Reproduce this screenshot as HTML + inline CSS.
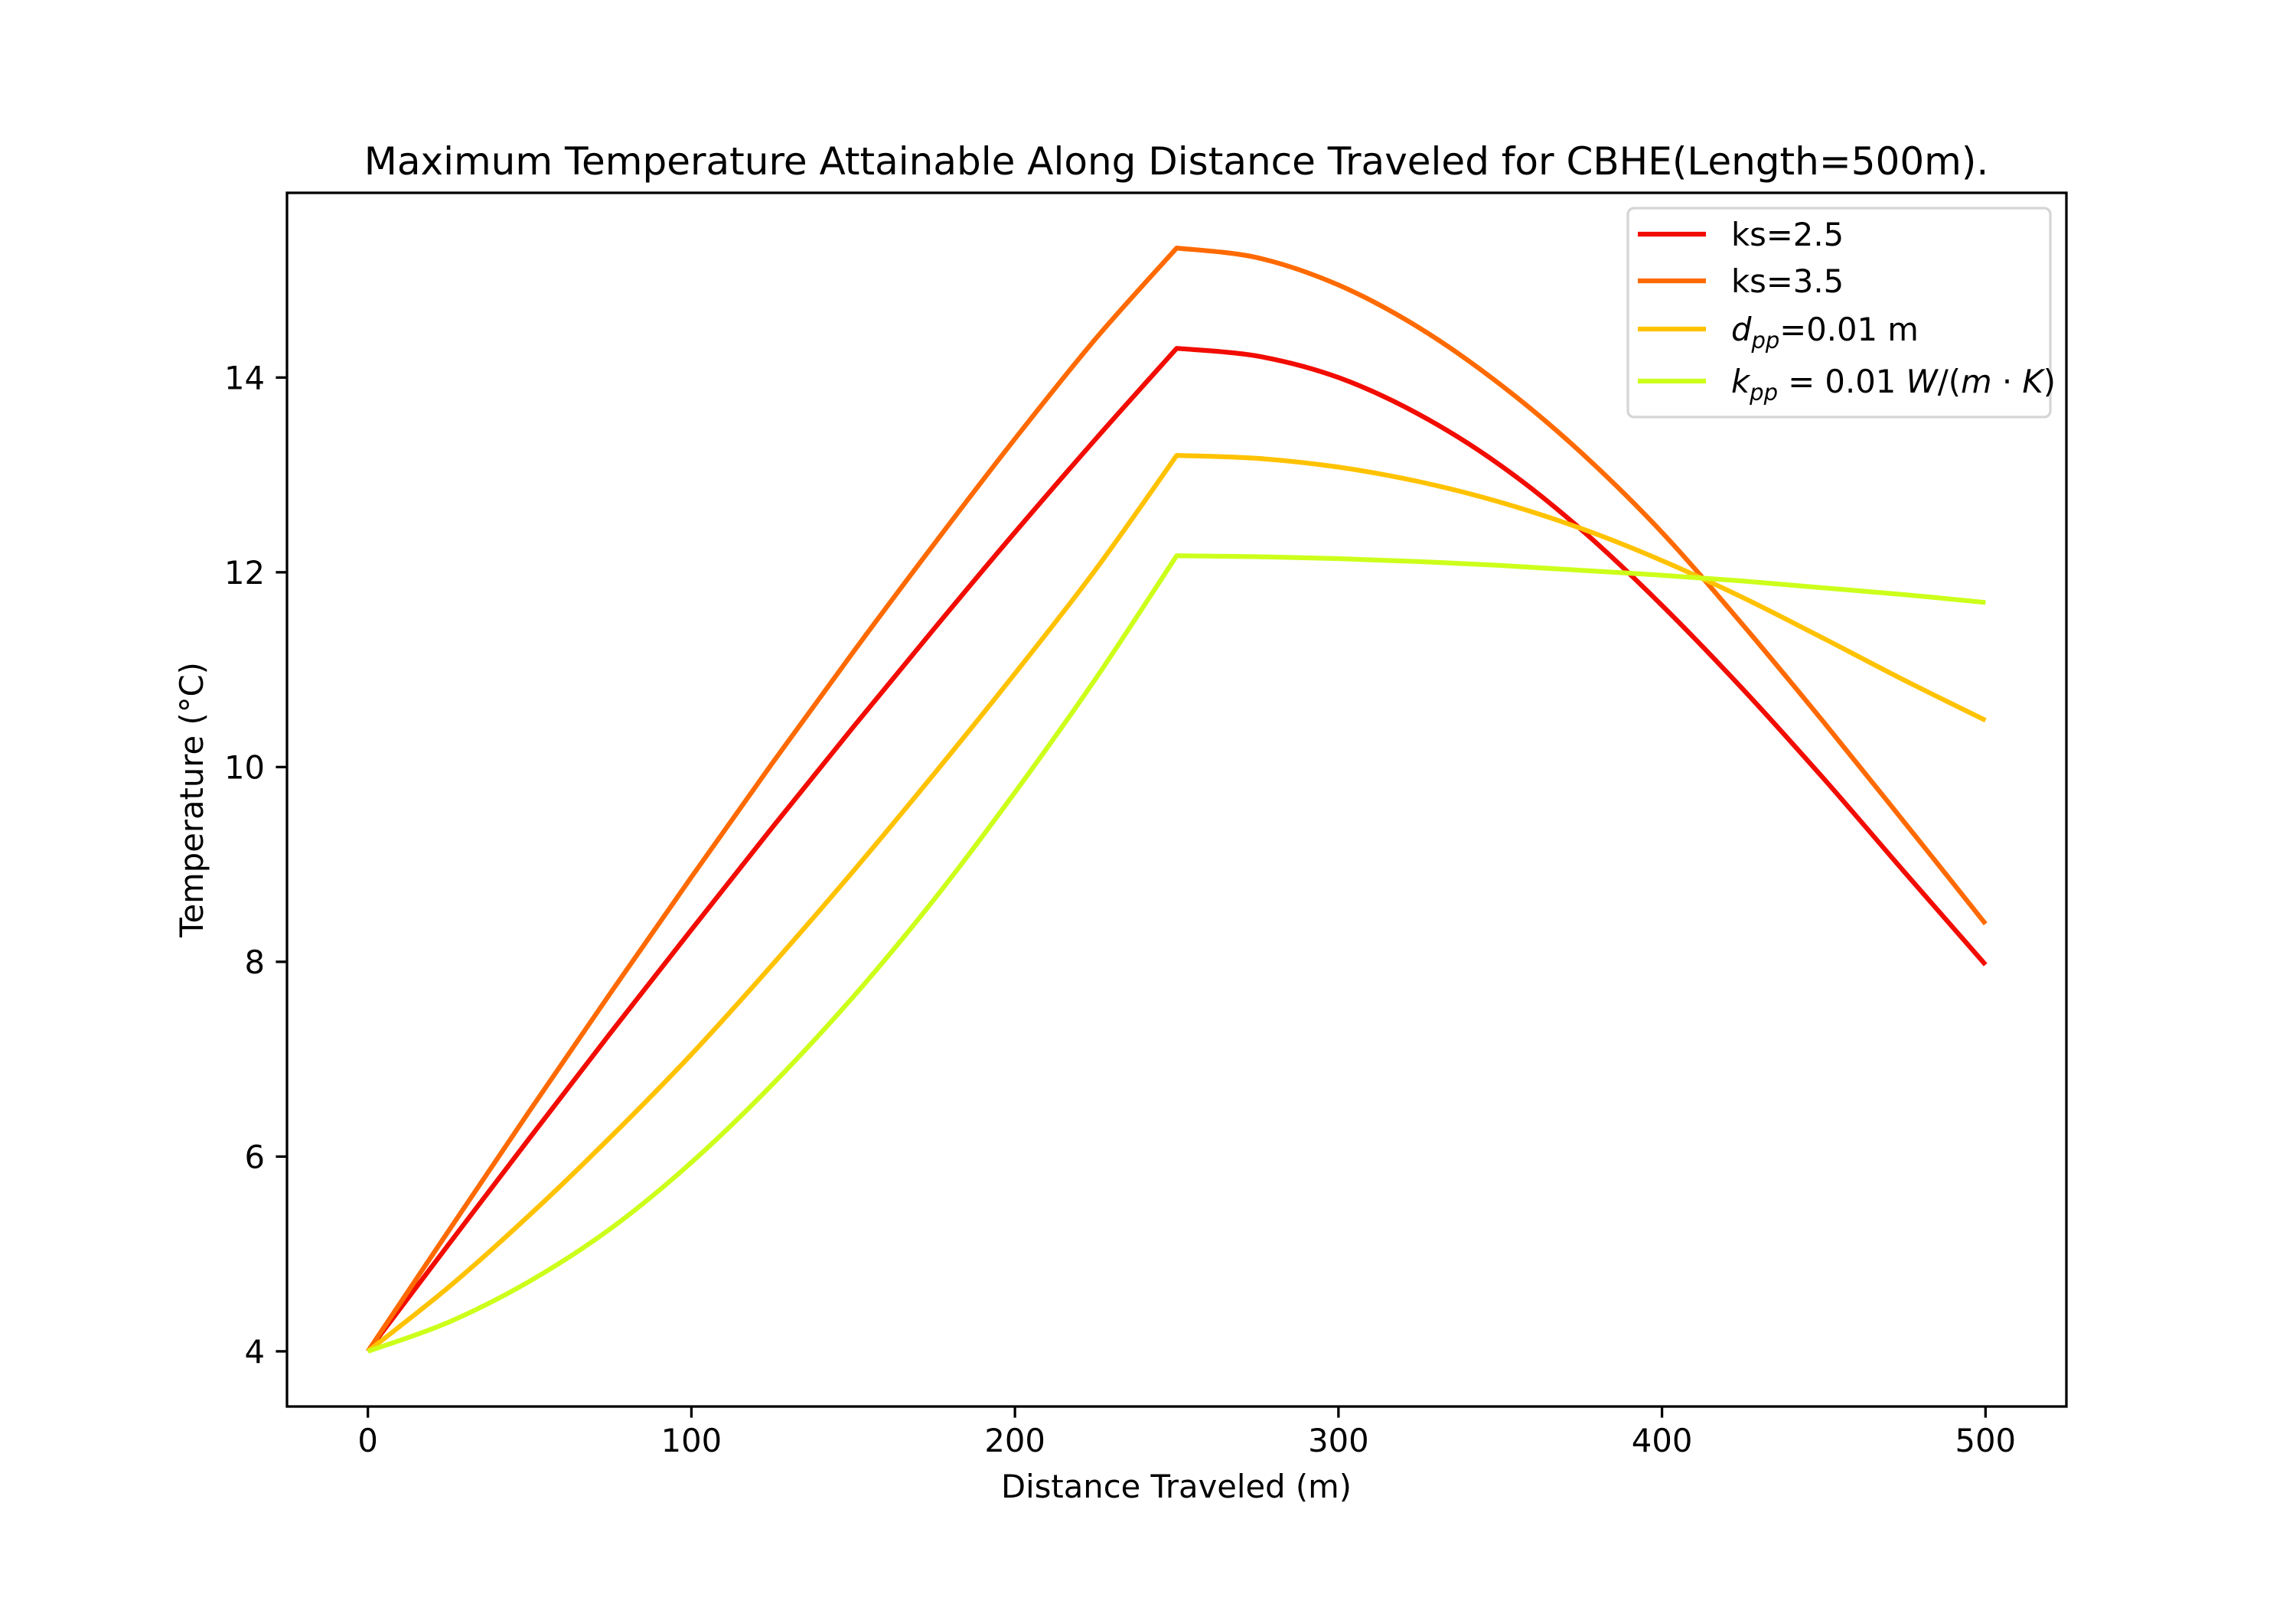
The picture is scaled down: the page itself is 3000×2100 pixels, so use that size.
<!DOCTYPE html>
<html><head><meta charset="utf-8"><style>
html,body{margin:0;padding:0;background:#fff}
svg{display:block;font-family:"DejaVu Sans","Liberation Sans",sans-serif}
</style></head><body>
<svg id="chart" width="3000" height="2100" viewBox="0 0 3000 2100" xmlns="http://www.w3.org/2000/svg">
<rect width="3000" height="2100" fill="#fff"/>
<text x="1537" y="228" font-size="50" text-anchor="middle">Maximum Temperature Attainable Along Distance Traveled for CBHE(Length=500m).</text>
<g id="series"></g>
<rect x="375" y="252" width="2325" height="1586" fill="none" stroke="#000" stroke-width="3.3"/>
<g id="xticks"></g>
<g id="yticks"></g>
<text x="1537" y="1957" font-size="41.7" text-anchor="middle">Distance Traveled (m)</text>
<text transform="translate(265,1045) rotate(-90)" font-size="41.7" text-anchor="middle">Temperature (°C)</text>
<g>
<rect x="2127" y="272" width="552" height="273" rx="8" fill="#fff" fill-opacity="0.8" stroke="#d5d5d5" stroke-width="3.3"/>
<line x1="2140" y1="306" x2="2229" y2="306" stroke="#f20c00" stroke-width="6.25"/>
<text x="2262" y="321" font-size="41.7">ks=2.5</text>
<line x1="2140" y1="367" x2="2229" y2="367" stroke="#ff6a00" stroke-width="6.25"/>
<text x="2262" y="382" font-size="41.7">ks=3.5</text>
<line x1="2140" y1="430" x2="2229" y2="430" stroke="#ffc200" stroke-width="6.25"/>
<text x="2262" y="445" font-size="41.7"><tspan font-style="italic">d</tspan><tspan font-style="italic" font-size="29" dy="10">pp</tspan><tspan dy="-10">=0.01 m</tspan></text>
<line x1="2140" y1="498" x2="2229" y2="498" stroke="#ccff1a" stroke-width="6.25"/>
<text x="2262" y="513" font-size="41.7"><tspan font-style="italic">k</tspan><tspan font-style="italic" font-size="29" dy="10">pp</tspan><tspan dy="-10"> = 0.01 </tspan><tspan font-style="italic">W</tspan><tspan>/(</tspan><tspan font-style="italic">m</tspan><tspan> · </tspan><tspan font-style="italic">K</tspan><tspan>)</tspan></text>
</g>
</svg>
<script>
const xValues = [0,25,50,75,100,125,150,175,200,225,250,275,300,325,350,375,400,425,450,475,500];
const ks25 = [4,5.1,6.19,7.27,8.33,9.38,10.41,11.42,12.41,13.37,14.3,14.22,14.0,13.62,13.1,12.44,11.66,10.8,9.88,8.92,7.97];
const ks35 = [4,5.24,6.47,7.68,8.87,10.04,11.18,12.29,13.37,14.4,15.33,15.23,14.95,14.51,13.93,13.23,12.41,11.46,10.46,9.43,8.39];
const dpp = [4,4.66,5.4,6.2,7.05,7.97,8.93,9.93,10.96,12.03,13.2,13.17,13.08,12.93,12.72,12.45,12.12,11.74,11.32,10.89,10.48];
const kpp = [4,4.3,4.72,5.26,5.94,6.74,7.64,8.64,9.74,10.91,12.17,12.16,12.14,12.11,12.07,12.02,11.97,11.91,11.84,11.77,11.69];
const xTicks = [0,100,200,300,400,500];
const yTicks = [4,6,8,10,12,14];
const seriesNames = ["ks25","ks35","dpp","kpp"];
const seriesColors = ["#f20c00","#ff6a00","#ffc200","#ccff1a"];
const peakX = 250;

const NS = "http://www.w3.org/2000/svg";
const L = 375, R = 2700, T = 252, B = 1838;
const xMin = -25, xMax = 525, yMin = 3.4335, yMax = 15.8965;
function sx(v){ return L + (v - xMin) / (xMax - xMin) * (R - L); }
function sy(v){ return B - (v - yMin) / (yMax - yMin) * (B - T); }

function smoothSeg(pts){
  let d = '';
  for (let i = 0; i < pts.length - 1; i++){
    const p0 = pts[i - 1] || pts[i], p1 = pts[i], p2 = pts[i + 1], p3 = pts[i + 2] || pts[i + 1];
    const c1x = p1[0] + (p2[0] - p0[0]) / 6, c1y = p1[1] + (p2[1] - p0[1]) / 6;
    const c2x = p2[0] - (p3[0] - p1[0]) / 6, c2y = p2[1] - (p3[1] - p1[1]) / 6;
    d += ' C' + c1x.toFixed(1) + ',' + c1y.toFixed(1) + ' ' + c2x.toFixed(1) + ',' + c2y.toFixed(1) + ' ' + p2[0].toFixed(1) + ',' + p2[1].toFixed(1);
  }
  return d;
}

const sg = document.getElementById('series');
[ks25, ks35, dpp, kpp].forEach((arr, i) => {
  const pts = arr.map((v, j) => [sx(xValues[j]), sy(v)]);
  const k = xValues.indexOf(peakX);
  const a = pts.slice(0, k + 1), b = pts.slice(k);
  const d = 'M' + a[0][0].toFixed(1) + ',' + a[0][1].toFixed(1) + smoothSeg(a) + smoothSeg(b);
  const p = document.createElementNS(NS, 'path');
  p.setAttribute('d', d);
  p.setAttribute('fill', 'none');
  p.setAttribute('stroke', seriesColors[i]);
  p.setAttribute('stroke-width', '6.25');
  p.setAttribute('stroke-linejoin', 'round');
  
  
  sg.appendChild(p);
});

const xg = document.getElementById('xticks');
xTicks.forEach(v => {
  const l = document.createElementNS(NS, 'line');
  l.setAttribute('x1', sx(v)); l.setAttribute('x2', sx(v));
  l.setAttribute('y1', B); l.setAttribute('y2', B + 14.6);
  l.setAttribute('stroke', '#000'); l.setAttribute('stroke-width', '3.3');
  
  
  xg.appendChild(l);
  const t = document.createElementNS(NS, 'text');
  t.setAttribute('x', sx(v)); t.setAttribute('y', 1897);
  t.setAttribute('font-size', '41.7'); t.setAttribute('text-anchor', 'middle');
  t.textContent = v;
  
  
  xg.appendChild(t);
});
const yg = document.getElementById('yticks');
yTicks.forEach(v => {
  const l = document.createElementNS(NS, 'line');
  l.setAttribute('x1', L - 14.6); l.setAttribute('x2', L);
  l.setAttribute('y1', sy(v)); l.setAttribute('y2', sy(v));
  l.setAttribute('stroke', '#000'); l.setAttribute('stroke-width', '3.3');
  
  
  yg.appendChild(l);
  const t = document.createElementNS(NS, 'text');
  t.setAttribute('x', L - 29); t.setAttribute('y', sy(v) + 15);
  t.setAttribute('font-size', '41.7'); t.setAttribute('text-anchor', 'end');
  t.textContent = v;
  
  
  yg.appendChild(t);
});
</script>
</body></html>
